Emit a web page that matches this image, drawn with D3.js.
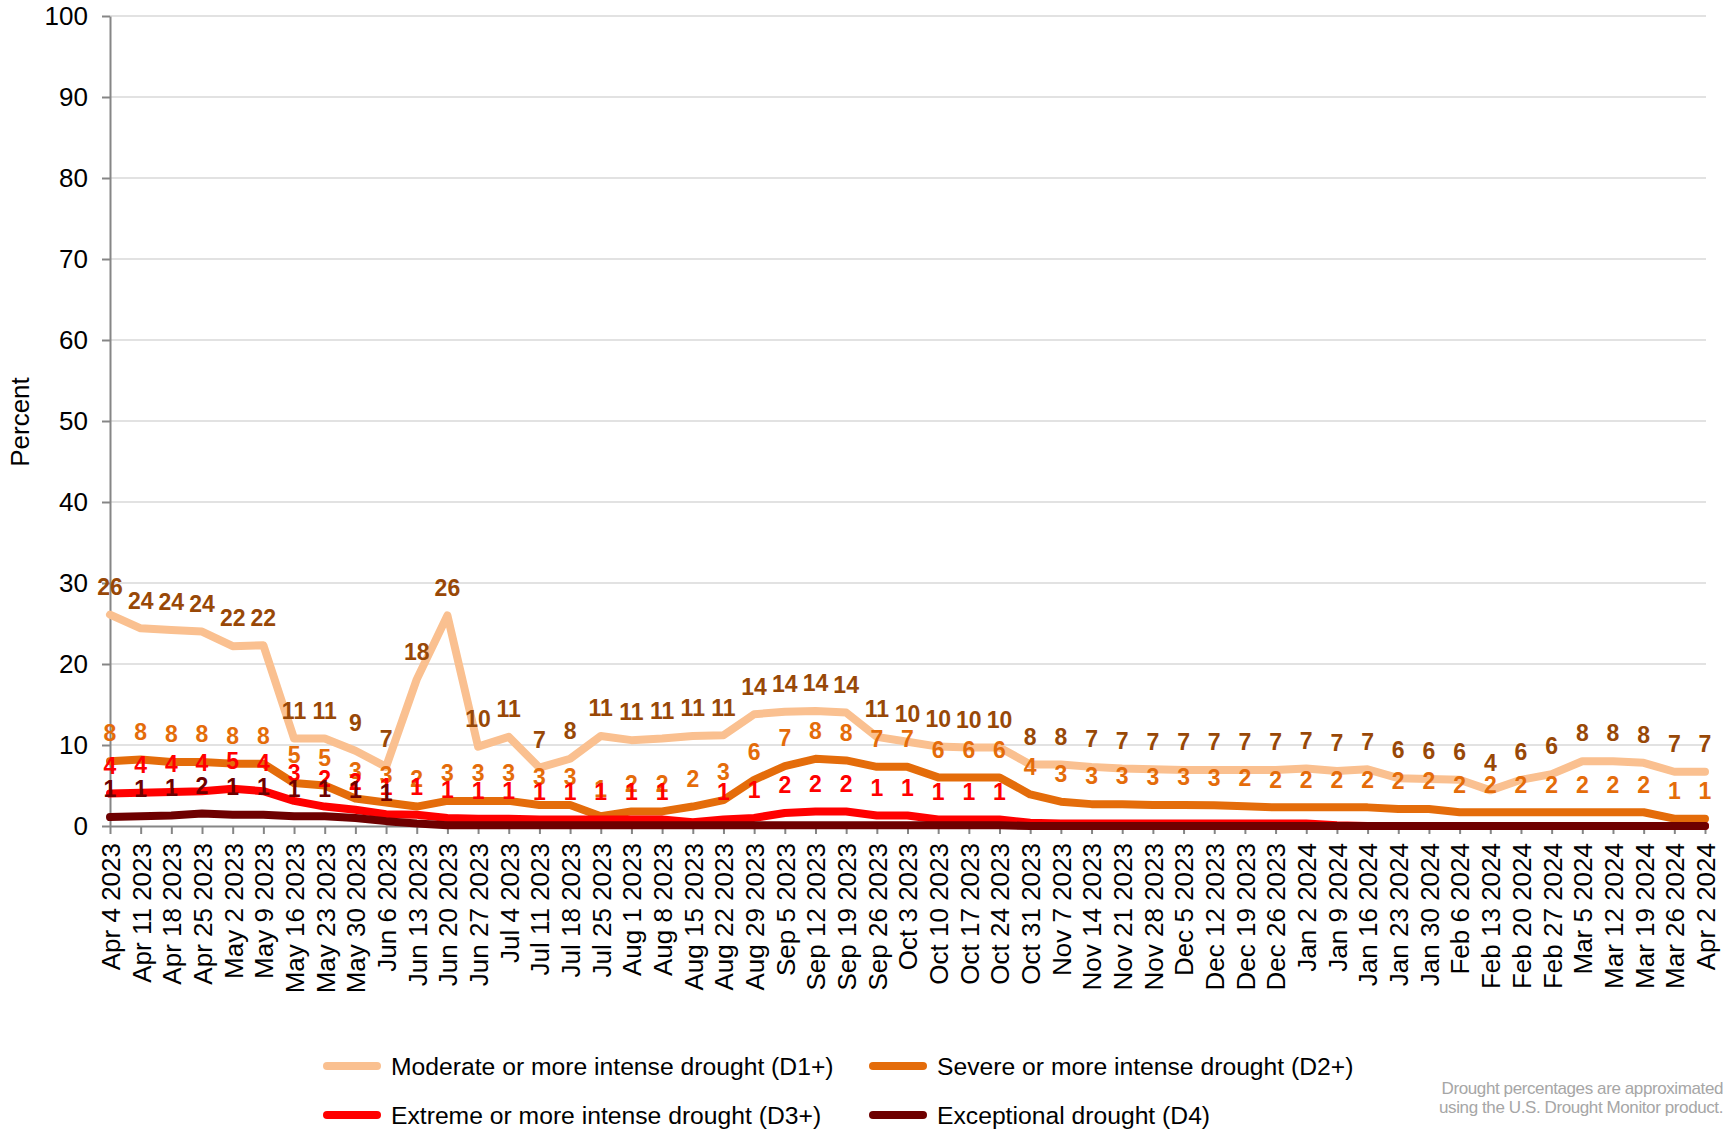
<!DOCTYPE html>
<html>
<head>
<meta charset="utf-8">
<script src="https://cdn.jsdelivr.net/npm/d3@7"></script>
<style>
  body { margin: 0; background: #fff; }
  svg { display: block; }
  text { font-family: "Liberation Sans", Arial, Helvetica, sans-serif; }
</style>
</head>
<body>
<svg id="chart" width="1729" height="1132"></svg>
<script>
// Weekly drought coverage, percent of area
const weeks = [
  "Apr 4 2023", "Apr 11 2023", "Apr 18 2023", "Apr 25 2023", "May 2 2023", "May 9 2023",
  "May 16 2023", "May 23 2023", "May 30 2023", "Jun 6 2023", "Jun 13 2023", "Jun 20 2023",
  "Jun 27 2023", "Jul 4 2023", "Jul 11 2023", "Jul 18 2023", "Jul 25 2023", "Aug 1 2023",
  "Aug 8 2023", "Aug 15 2023", "Aug 22 2023", "Aug 29 2023", "Sep 5 2023", "Sep 12 2023",
  "Sep 19 2023", "Sep 26 2023", "Oct 3 2023", "Oct 10 2023", "Oct 17 2023", "Oct 24 2023",
  "Oct 31 2023", "Nov 7 2023", "Nov 14 2023", "Nov 21 2023", "Nov 28 2023", "Dec 5 2023",
  "Dec 12 2023", "Dec 19 2023", "Dec 26 2023", "Jan 2 2024", "Jan 9 2024", "Jan 16 2024",
  "Jan 23 2024", "Jan 30 2024", "Feb 6 2024", "Feb 13 2024", "Feb 20 2024", "Feb 27 2024",
  "Mar 5 2024", "Mar 12 2024", "Mar 19 2024", "Mar 26 2024", "Apr 2 2024"
];

const d1Values = [
  26.1, 24.4, 24.2, 24.0, 22.2, 22.3, 10.8, 10.8, 9.3, 7.3, 18.1, 26.0,
  9.8, 11.0, 7.2, 8.3, 11.1, 10.6, 10.8, 11.1, 11.2, 13.8, 14.1, 14.2,
  14.0, 11.0, 10.4, 9.8, 9.7, 9.7, 7.6, 7.6, 7.3, 7.1, 7.0, 6.9,
  6.9, 6.9, 6.9, 7.1, 6.8, 7.0, 5.9, 5.8, 5.7, 4.4, 5.7, 6.4,
  8.0, 8.0, 7.8, 6.7, 6.7
];

const d2Values = [
  8.0, 8.2, 7.9, 7.9, 7.7, 7.7, 5.3, 5.0, 3.4, 2.9, 2.4, 3.1,
  3.1, 3.1, 2.6, 2.6, 1.2, 1.8, 1.8, 2.4, 3.2, 5.7, 7.4, 8.3,
  8.1, 7.3, 7.3, 6.0, 6.0, 6.0, 3.9, 3.0, 2.7, 2.7, 2.6, 2.6,
  2.55, 2.45, 2.3, 2.3, 2.3, 2.3, 2.1, 2.1, 1.7, 1.7, 1.7, 1.7,
  1.7, 1.7, 1.7, 0.9, 0.9
];

const d3Values = [
  4.0, 4.1, 4.2, 4.3, 4.6, 4.3, 3.1, 2.4, 2.0, 1.45, 1.4, 1.0,
  0.9, 0.9, 0.8, 0.8, 0.8, 0.8, 0.8, 0.48, 0.8, 1.0, 1.6, 1.8,
  1.8, 1.3, 1.3, 0.8, 0.8, 0.8, 0.4, 0.3, 0.3, 0.3, 0.3, 0.3,
  0.3, 0.3, 0.3, 0.3, 0.1, 0, 0, 0, 0, 0, 0, 0,
  0, 0, 0, 0, 0
];

const d4Values = [
  1.1, 1.2, 1.3, 1.55, 1.4, 1.4, 1.2, 1.2, 1.0, 0.6, 0.3, 0.1,
  0.1, 0.1, 0.1, 0.1, 0.1, 0.1, 0.1, 0.1, 0.1, 0.1, 0.1, 0.1,
  0.1, 0.1, 0.1, 0.1, 0.1, 0.1, 0, 0, 0, 0, 0, 0,
  0, 0, 0, 0, 0, 0, 0, 0, 0, 0, 0, 0,
  0, 0, 0, 0, 0
];

const seriesNames = [
  "Moderate or more intense drought (D1+)",
  "Severe or more intense drought (D2+)",
  "Extreme or more intense drought (D3+)",
  "Exceptional drought (D4)"
];

const yTickValues = [0, 10, 20, 30, 40, 50, 60, 70, 80, 90, 100];
const yTitle = "Percent";
const noteLines = [
  "Drought percentages are approximated",
  "using the U.S. Drought Monitor product."
];

// ---- styling ----
const lineColors  = ["#FAC090", "#E46C0A", "#FF0000", "#6E0000"];
const labelColors = ["#984807", "#E46C0A", "#FF0000", "#6E0000"];

const series = [d1Values, d2Values, d3Values, d4Values].map((values, k) => ({
  name: seriesNames[k],
  values,
  line: lineColors[k],
  label: labelColors[k]
}));

const svg = d3.select("#chart");
const plot = { left: 110, right: 1705, top: 16, bottom: 826 };

const x = d3.scalePoint().domain(weeks).range([plot.left, plot.right]);
const y = d3.scaleLinear().domain([0, 100]).range([plot.bottom, plot.top]);

// horizontal gridlines
svg.append("g")
  .selectAll("line")
  .data(yTickValues.filter(v => v > 0))
  .join("line")
  .attr("x1", plot.left).attr("x2", plot.right + 1)
  .attr("y1", d => y(d)).attr("y2", d => y(d))
  .attr("stroke", "#d9d9d9")
  .attr("stroke-width", 1.5);

// y axis
const yAxis = svg.append("g")
  .attr("transform", `translate(${plot.left},0)`)
  .call(d3.axisLeft(y).tickValues(yTickValues).tickSize(8).tickSizeOuter(0).tickPadding(14));
yAxis.select(".domain").attr("stroke", "#868686").attr("stroke-width", 2);
yAxis.selectAll(".tick line").attr("stroke", "#868686").attr("stroke-width", 2);
yAxis.selectAll(".tick text")
  .attr("font-size", 26)
  .attr("fill", "#000")
  .style("font-family", '"Liberation Sans", Arial, sans-serif');

// x axis
const xAxis = svg.append("g")
  .attr("transform", `translate(0,${plot.bottom})`)
  .call(d3.axisBottom(x).tickSize(8).tickSizeOuter(0));
xAxis.select(".domain").attr("stroke", "#868686").attr("stroke-width", 2);
xAxis.selectAll(".tick line").attr("stroke", "#868686").attr("stroke-width", 2);
xAxis.selectAll(".tick text")
  .attr("transform", "rotate(-90)")
  .attr("x", -17)
  .attr("y", 0)
  .attr("dy", "0.36em")
  .attr("text-anchor", "end")
  .attr("font-size", 26)
  .attr("fill", "#000")
  .style("font-family", '"Liberation Sans", Arial, sans-serif');

// y axis title
svg.append("text")
  .attr("transform", `translate(20,422) rotate(-90)`)
  .attr("text-anchor", "middle")
  .attr("dy", "0.36em")
  .attr("font-size", 26)
  .attr("fill", "#000")
  .text(yTitle);

// series lines
const line = d3.line()
  .x((d, i) => x(weeks[i]))
  .y(d => y(d));

svg.append("g")
  .selectAll("path")
  .data(series)
  .join("path")
  .attr("d", s => line(s.values))
  .attr("fill", "none")
  .attr("stroke", s => s.line)
  .attr("stroke-width", 8)
  .attr("stroke-linejoin", "round")
  .attr("stroke-linecap", "round");

// data labels above each point (zero-rounded values are not labelled)
const labels = svg.append("g");
series.forEach(s => {
  labels.append("g")
    .selectAll("text")
    .data(s.values.map((v, i) => ({ v, week: weeks[i] })).filter(d => Math.round(d.v) !== 0))
    .join("text")
    .attr("x", d => x(d.week))
    .attr("y", d => y(d.v) - 28)
    .attr("dy", "0.36em")
    .attr("text-anchor", "middle")
    .attr("font-size", 23)
    .attr("font-weight", "bold")
    .attr("fill", s.label)
    .text(d => Math.round(d.v));
});

// legend
const legendPos = [
  { x: 327, y: 1066 }, { x: 873, y: 1066 },
  { x: 327, y: 1115 }, { x: 873, y: 1115 }
];
const legend = svg.append("g")
  .selectAll("g")
  .data(series)
  .join("g")
  .attr("transform", (s, i) => `translate(${legendPos[i].x},${legendPos[i].y})`);
legend.append("line")
  .attr("x1", 0).attr("x2", 50)
  .attr("y1", 0).attr("y2", 0)
  .attr("stroke", s => s.line)
  .attr("stroke-width", 8)
  .attr("stroke-linecap", "round");
legend.append("text")
  .attr("x", 64)
  .attr("dy", "0.36em")
  .attr("font-size", 24.7)
  .attr("fill", "#000")
  .text(s => s.name);

// footnote
svg.append("g")
  .selectAll("text")
  .data(noteLines)
  .join("text")
  .attr("x", 1723)
  .attr("y", (d, i) => 1088 + i * 19)
  .attr("dy", "0.36em")
  .attr("text-anchor", "end")
  .attr("font-size", 17)
  .attr("letter-spacing", -0.4)
  .attr("fill", "#a6a6a6")
  .text(d => d);
</script>
</body>
</html>
